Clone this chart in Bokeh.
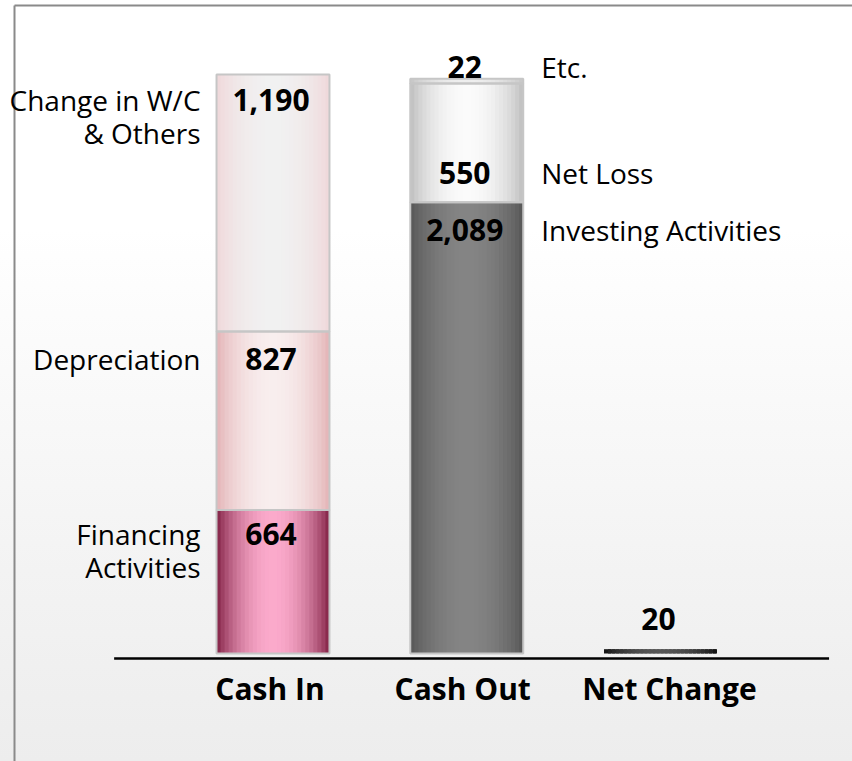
import math
from bokeh.plotting import figure
from bokeh.models import Range1d, ColumnDataSource
from bokeh.core.properties import value
from bokeh.embed import file_html
from bokeh.resources import INLINE

# ---------------- data ----------------
categories = ["Cash In", "Cash Out", "Net Change"]

cash_in_labels = ["Financing\nActivities", "Depreciation", "Change in W/C\n& Others"]
cash_in_values = [664, 827, 1190]

cash_out_labels = ["Investing Activities", "Net Loss", "Etc."]
cash_out_values = [2089, 550, 22]

net_change_value = 20

# ---------------- styles ----------------
cash_in_edges = ["#7b1a3e", "#e2b0b3", "#efd6d8"]
cash_in_centers = ["#fbaacb", "#f8eeee", "#f1f1f1"]
cash_out_edges = ["#555555", "#bcbcbc", "#c4c4c4"]
cash_out_centers = ["#848484", "#fbfbfb", "#eeeeee"]
net_edge, net_center = "#0e0e0e", "#565656"

# screen offsets (px) of value labels relative to segment top
cash_in_dy = [24, 28, 26]
cash_out_dy = [28, 90, -12]
net_dy = -30
category_dx = [-3, -4, 9]

FONT = value("Open Sans")
BAR_W = 0.583
PX_PER_X = 193.75
PX_PER_Y = 0.216
W, H = 852, 761
ZERO_X, ZERO_Y = 272.5, 653
X_START = -ZERO_X / PX_PER_X
X_END = (W - ZERO_X) / PX_PER_X
Y_END = ZERO_Y / PX_PER_Y
Y_START = -(H - ZERO_Y) / PX_PER_Y

p = figure(width=W, height=H, output_backend="svg", toolbar_location=None,
           x_range=Range1d(X_START, X_END), y_range=Range1d(Y_START, Y_END),
           x_axis_location=None, y_axis_location=None,
           min_border_left=0, min_border_right=0, min_border_top=0, min_border_bottom=0)
p.grid.visible = False
p.outline_line_color = None
p.background_fill_alpha = 0
p.border_fill_alpha = 0
p.styles = {"background": "linear-gradient(to bottom, #ffffff 0%, #ffffff 30%, #f3f3f3 75%, #ededed 100%)"}

# panel frame (top and left edges)
fx = X_START + 14 / PX_PER_X
fy = Y_END - 5 / PX_PER_Y
p.segment(x0=[fx, fx], y0=[fy, fy], x1=[X_END, fx], y1=[fy, Y_START],
          line_color="#8a8a8a", line_width=2)


def mix(c1, c2, t):
    a = [int(c1[i:i + 2], 16) for i in (1, 3, 5)]
    b = [int(c2[i:i + 2], 16) for i in (1, 3, 5)]
    return "#%02x%02x%02x" % tuple(round(a[k] + (b[k] - a[k]) * t) for k in range(3))


strips = dict(l=[], r=[], b=[], t=[], c=[])
segs = dict(x=[], b=[], t=[])
N = 28


def add_segment(xi, bottom, top, edge, center, outline=True):
    x0 = xi - BAR_W / 2
    x1 = xi + BAR_W / 2
    dw = BAR_W / N
    for k in range(N):
        tt = (k + 0.5) / N
        f = math.sin(math.pi * tt) ** 0.75
        strips["l"].append(x0 + k * dw)
        strips["r"].append(min(x0 + (k + 1.8) * dw, x1))
        strips["b"].append(bottom)
        strips["t"].append(top)
        strips["c"].append(mix(edge, center, f))
    if outline:
        segs["x"].append(xi)
        segs["b"].append(bottom)
        segs["t"].append(top)


value_txt = dict(x=[], y=[], dy=[], text=[])
side_txt = dict(x=[], y=[], dy=[], text=[], align=[], dx=[])


def fmt(v):
    return f"{v:,}"


# Cash In
base = 0
for v, lab, e, c, dy in zip(cash_in_values, cash_in_labels, cash_in_edges, cash_in_centers, cash_in_dy):
    add_segment(0, base, base + v, e, c)
    value_txt["x"].append(0); value_txt["y"].append(base + v); value_txt["dy"].append(dy); value_txt["text"].append(fmt(v))
    for k, line in enumerate(lab.split("\n")):
        side_txt["x"].append(0 - BAR_W / 2); side_txt["y"].append(base + v)
        side_txt["dy"].append(dy + k * 33); side_txt["text"].append(line)
        side_txt["align"].append("right"); side_txt["dx"].append(-16)
    base += v

# Cash Out
base = 0
for v, lab, e, c, dy in zip(cash_out_values, cash_out_labels, cash_out_edges, cash_out_centers, cash_out_dy):
    add_segment(1, base, base + v, e, c)
    value_txt["x"].append(1); value_txt["y"].append(base + v); value_txt["dy"].append(dy); value_txt["text"].append(fmt(v))
    for k, line in enumerate(lab.split("\n")):
        side_txt["x"].append(1 + BAR_W / 2); side_txt["y"].append(base + v)
        side_txt["dy"].append(dy + k * 33); side_txt["text"].append(line)
        side_txt["align"].append("left"); side_txt["dx"].append(18)
    base += v

# Net change
add_segment(2, 0, net_change_value, net_edge, net_center, outline=False)
value_txt["x"].append(2); value_txt["y"].append(net_change_value); value_txt["dy"].append(net_dy)
value_txt["text"].append(fmt(net_change_value))

p.quad(left="l", right="r", bottom="b", top="t", fill_color="c", line_color=None,
       source=ColumnDataSource(strips))
p.vbar(x="x", width=BAR_W, bottom="b", top="t", fill_alpha=0, line_color="#c6c6c6", line_width=2,
       source=ColumnDataSource(segs))

# baseline
base_y = -5 / PX_PER_Y
p.line(x=[0 - 0.82, len(categories) - 1 + 0.87], y=[base_y, base_y], line_color="#000000", line_width=2.5)

p.text(x="x", y="y", text="text", y_offset="dy", x_offset=-2, source=ColumnDataSource(value_txt),
       text_font=FONT, text_font_style="bold", text_font_size="30px",
       text_align="center", text_baseline="middle", text_color="#000000")

p.text(x="x", y="y", text="text", y_offset="dy", x_offset="dx", text_align="align",
       source=ColumnDataSource(side_txt),
       text_font=FONT, text_font_size="28px", text_baseline="middle", text_color="#000000")

p.text(x=list(range(len(categories))), y=[0] * len(categories), text=categories, y_offset=35,
       x_offset=category_dx,
       text_font=FONT, text_font_style="bold", text_font_size="30px",
       text_align="center", text_baseline="middle", text_color="#000000")

open("out.html", "w").write(file_html(p, INLINE))
